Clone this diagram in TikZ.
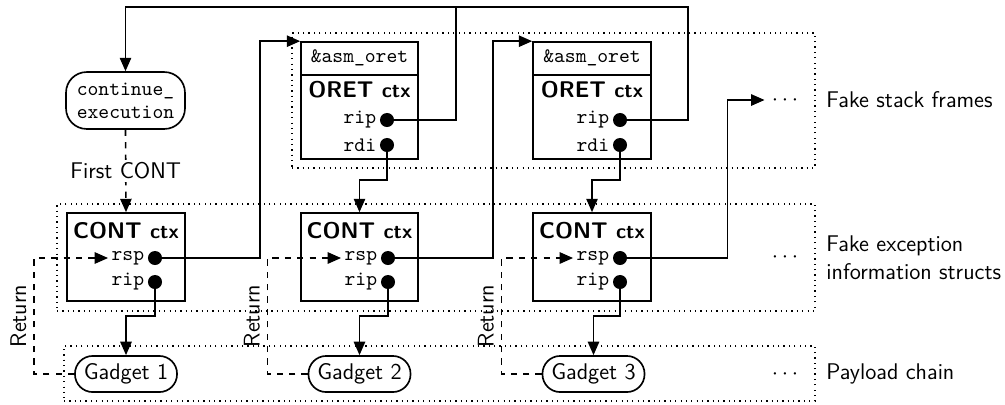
\documentclass[tikz,border=0pt]{standalone}
\usetikzlibrary{arrows.meta,fit,calc}
\newcommand{\sansfont}{\fontsize{11}{13.5}\selectfont\sffamily}
\newcommand{\codefont}{\fontsize{10}{11.3}\selectfont\ttfamily}
\newcommand{\ctxword}{{\fontsize{10}{12}\selectfont ctx}}
\begin{document}
\begin{tikzpicture}[x=0.485pt,y=-0.485pt,font=\sansfont,
  wire/.style={thick},
  arr/.style={-{Triangle[length=6.5pt,width=5.5pt]}},
  box/.style={draw,thick,inner sep=0pt},
  region/.style={draw,semithick,dotted,inner sep=0pt},
  pin/.style={circle,fill,inner sep=0pt,minimum size=6.8pt},
  reg/.style={anchor=east,inner sep=1.5pt,font=\codefont},
  ctxtitle/.style={font=\sansfont\bfseries},
  gadget/.style={draw,thick,rounded corners=8.6pt,minimum width=49.5pt,minimum height=17.5pt,inner sep=0pt},
  side/.style={anchor=west,inner sep=0pt,align=left}]
\useasboundingbox (0,0) rectangle (1005,404);

% dotted groupings
\node[region,fit={(292,33) (815,168)}] (frames) {};
\node[region,fit={(57,204) (815,311)}] (infos) {};
\node[region,fit={(64,346) (815,401)}] (chain) {};

\node[side] (labframes) at (826,100) {Fake stack frames};
\node[side] (labinfos) at (826,258) {Fake exception\\information structs};
\node[side] (labchain) at (826,374) {Payload chain};

\node (more1) at (785,100) {$\cdots$};
\node (more2) at (785,257) {$\cdots$};
\node (more3) at (785,374) {$\cdots$};

% entry point
\node[draw,thick,rounded corners=10pt,minimum width=57.7pt,minimum height=27.6pt,
  inner sep=0pt,align=center,font=\codefont] (cexec) at (125.5,100.5) {continue\_\\execution};

% fake stack frames
\foreach \n/\xl/\xr/\xd in {1/301/418/387,2/533/651/620}{
  \node[box,fit={(\xl,42) (\xr,159)}] (oret\n) {};
  \draw[thick] (\xl,75) -- (\xr,75);
  \node[font=\codefont] (oreth\n) at ({(\xl+\xr)/2},58) {\&asm\_oret};
  \node[ctxtitle] (oretT\n) at ({(\xl+\xr)/2},90) {ORET \ctxword};
  \node[pin] (orip\n) at (\xd,120) {};
  \node[pin] (ordi\n) at (\xd,145) {};
  \node[reg] (oript\n) at (orip\n.west) {rip};
  \node[reg] (ordit\n) at (ordi\n.west) {rdi};
}

% fake exception information structs
\foreach \n/\xl/\xr/\xd in {1/67/185/155,2/301/418/388,3/533/651/620}{
  \node[box,fit={(\xl,213) (\xr,301)}] (cont\n) {};
  \node[ctxtitle] (contT\n) at ({(\xl+\xr)/2},231) {CONT \ctxword};
  \node[pin] (crsp\n) at (\xd,258) {};
  \node[pin] (crip\n) at (\xd,282) {};
  \node[reg] (crspt\n) at (crsp\n.west) {rsp};
  \node[reg] (cript\n) at (crip\n.west) {rip};
}

% payload chain
\node[gadget] (g1) at (126,374) {Gadget 1};
\node[gadget] (g2) at (359.5,374) {Gadget 2};
\node[gadget] (g3) at (593.5,374) {Gadget 3};

% loop back to continue_execution
\coordinate (loopR) at (688,7);
\coordinate (loopM) at (456,7);
\draw[wire,arr] (orip2.center) -| (loopR) -| (cexec.north);
\draw[wire] (orip1.center) -| (loopM);

\draw[wire,dashed,arr] (cexec.south) -- node[fill=white,inner sep=1.5pt]{First CONT} (cont1.north);

% rsp pivots into the next frame
\draw[wire,arr] (crsp1.center) -| ($(oret1.north west)+(-40,0)$) -- (oret1.north west);
\draw[wire,arr] (crsp2.center) -| ($(oret2.north west)+(-39,0)$) -- (oret2.north west);
\draw[wire,arr] (crsp3.center) -| ($(more1.west)+(-37,0)$) -- (more1.west);

% rdi selects the next CONT context
\draw[wire,arr] (ordi1.center) -- ++(0,35) -| (cont2.north);
\draw[wire,arr] (ordi2.center) -- ++(0,35) -| (cont3.north);

% rip runs the gadget
\foreach \n in {1,2,3}{
  \draw[wire,arr] (crip\n.center) -- ++(0,34) -| (g\n.north);
  \draw[wire,dashed,arr] (g\n.west) -- ++(-40,0) |- node[pos=0.25,rotate=90,anchor=south]{Return} (crspt\n.west);
}
\end{tikzpicture}
\end{document}
